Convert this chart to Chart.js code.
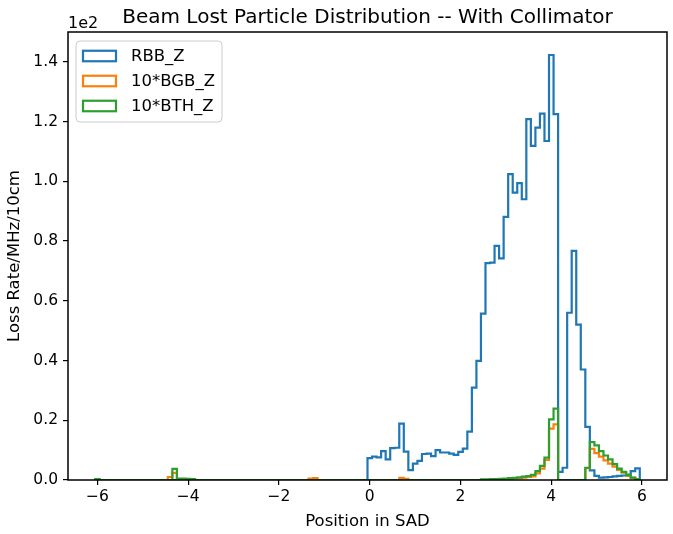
<!DOCTYPE html>
<html>
<head>
<meta charset="utf-8">
<script src="https://cdn.jsdelivr.net/npm/chart.js@4.4.0/dist/chart.umd.min.js"></script>
<style>
  html, body { margin: 0; padding: 0; background: #fff; }
</style>
</head>
<body>
<canvas id="lossChart" width="673" height="534"></canvas>
<script>
// histogram bins: 120 bins of width 0.1, centres -6.0 ... 5.9
const binStart = -6.05;
const binWidth = 0.1;

const xTicks = [-6, -4, -2, 0, 2, 4, 6];
const yTicks = [0, 20, 40, 60, 80, 100, 120, 140];

// one row per unit of position (centres -6.0..-5.1, -5.0..-4.1, ...)
const rbbZ = [
  0, 0, 0, 0, 0, 0, 0, 0, 0, 0,
  0, 0, 0, 0, 0, 0, 0, 0, 0, 0,
  0, 0, 0, 0, 0, 0, 0, 0, 0, 0,
  0, 0, 0, 0, 0, 0, 0, 0, 0, 0,
  0, 0, 0, 0, 0, 0, 0, 0, 0, 0,
  0, 0, 0, 0, 0, 0, 0, 0, 0, 0,
  7.3, 7.8, 7.6, 9.7, 6.9, 10.7, 10.8, 18.9, 9.5, 3.3,
  5.5, 6.4, 8.7, 8.8, 8.0, 10.0, 9.2, 9.2, 8.8, 8.4,
  9.4, 10.5, 16.2, 30.9, 39.9, 55.7, 72.6, 72.8, 78.4, 74.2,
  88.1, 102.4, 96.2, 99.4, 94.0, 120.8, 111.9, 118.0, 122.7, 113.5,
  142.3, 122.5, 2.7, 4.1, 56.0, 76.7, 52.0, 37.0, 17.8, 3.2,
  1.4, 0.8, 0.9, 1.0, 1.2, 1.4, 1.5, 1.8, 3.0, 3.9,
];

const bgbZ = [
  0, 0, 0, 0, 0, 0, 0, 0, 0, 0,
  0, 0, 0, 0, 0, 0, 1.0, 2.4, 0, 0,
  0, 0, 0, 0, 0, 0, 0, 0, 0, 0,
  0, 0, 0, 0, 0, 0, 0, 0, 0, 0,
  0, 0, 0, 0, 0, 0, 0, 0.5, 0.6, 0,
  0, 0, 0, 0, 0, 0, 0, 0, 0, 0,
  0, 0, 0, 0, 0, 0, 0, 0.7, 0.4, 0,
  0, 0, 0, 0, 0, 0, 0, 0, 0, 0,
  0, 0, 0, 0, 0, 0, 0, 0, 0.2, 0.3,
  0.3, 0.4, 0.5, 0.6, 0.8, 1.0, 1.2, 2.2, 3.8, 6.7,
  17.2, 18.6, 0, 0, 0, 0, 0, 0, 4.0, 10.4,
  9.0, 7.8, 6.6, 5.5, 4.5, 3.4, 2.5, 1.4, 0.7, 0.2,
];

const bthZ = [
  0.3, 0, 0, 0, 0, 0, 0, 0, 0, 0,
  0, 0, 0, 0, 0, 0, 0, 3.7, 0.5, 0.5,
  0.4, 0.3, 0, 0, 0, 0, 0, 0, 0, 0,
  0, 0, 0, 0, 0, 0, 0, 0, 0, 0,
  0, 0, 0, 0, 0, 0, 0, 0, 0, 0,
  0, 0, 0, 0, 0, 0, 0, 0, 0, 0,
  0, 0, 0, 0, 0, 0, 0, 0, 0, 0,
  0, 0, 0, 0, 0, 0, 0, 0, 0, 0,
  0, 0, 0, 0, 0, 0.2, 0.2, 0.3, 0.3, 0.4,
  0.5, 0.6, 0.7, 0.9, 1.1, 1.3, 1.7, 3.0, 4.7, 7.5,
  20.3, 23.9, 0, 0, 0, 0, 0, 0, 4.1, 12.7,
  11.6, 9.7, 8.2, 6.9, 5.3, 3.8, 2.7, 1.6, 0.8, 0.3,
];

const seriesNames = ['RBB_Z', '10*BGB_Z', '10*BTH_Z'];
const seriesColors = ['#1f77b4', '#ff7f0e', '#2ca02c'];

const FONT = '"DejaVu Sans", sans-serif';

// step outline like a matplotlib 'step' histogram
function outline(values) {
  const pts = [{ x: binStart, y: 0 }];
  values.forEach((v, i) => pts.push({ x: binStart + i * binWidth, y: v }));
  pts.push({ x: binStart + values.length * binWidth, y: 0 });
  return pts;
}

function fmtTick(v) {
  return v < 0 ? '\u2212' + Math.abs(v) : String(v);
}

const decorations = {
  id: 'decorations',
  afterDatasetsDraw(chart) {
    const { ctx, chartArea: a } = chart;
    ctx.save();
    ctx.strokeStyle = '#000';
    ctx.lineWidth = 1.5;
    ctx.strokeRect(a.left, a.top, a.right - a.left, a.bottom - a.top);

    ctx.fillStyle = '#000';
    ctx.textAlign = 'center';
    ctx.textBaseline = 'alphabetic';
    ctx.font = '20px ' + FONT;
    ctx.fillText('Beam Lost Particle Distribution -- With Collimator', (a.left + a.right) / 2, a.top - 9);

    ctx.textAlign = 'left';
    ctx.font = '16px ' + FONT;
    ctx.fillText('1e2', a.left, a.top - 4);
    ctx.restore();
  },
  afterDraw(chart) {
    const { ctx, chartArea: a } = chart;
    const x0 = a.left + 8, y0 = a.top + 9, w = 146, h = 81;
    ctx.save();
    ctx.beginPath();
    ctx.roundRect(x0, y0, w, h, 4);
    ctx.fillStyle = 'rgba(255,255,255,0.8)';
    ctx.fill();
    ctx.strokeStyle = '#cccccc';
    ctx.lineWidth = 1;
    ctx.stroke();

    ctx.font = '16.5px ' + FONT;
    ctx.textBaseline = 'middle';
    ctx.textAlign = 'left';
    seriesNames.forEach((name, i) => {
      const cy = y0 + 15 + i * 25;
      ctx.strokeStyle = seriesColors[i];
      ctx.lineWidth = 2.2;
      ctx.strokeRect(x0 + 7, cy - 5.25, 33, 10.5);
      ctx.fillStyle = '#000';
      ctx.fillText(name, x0 + 55, cy + 1);
    });
    ctx.restore();
  },
};

new Chart(document.getElementById('lossChart'), {
  type: 'line',
  data: {
    datasets: [rbbZ, bgbZ, bthZ].map((vals, i) => ({
      label: seriesNames[i],
      data: outline(vals),
      borderColor: seriesColors[i],
      backgroundColor: seriesColors[i],
      borderWidth: 2.2,
      stepped: true,
      fill: false,
      pointRadius: 0,
      order: 2 - i,
    })),
  },
  options: {
    responsive: false,
    animation: false,
    devicePixelRatio: 1,
    layout: { padding: { top: 32, right: 6, left: 0, bottom: 0 } },
    plugins: {
      legend: { display: false },
      tooltip: { enabled: false },
    },
    scales: {
      x: {
        type: 'linear',
        min: -6.65,
        max: 6.55,
        afterFit(s) { s.height = 54; },
        afterBuildTicks(s) { s.ticks = xTicks.map((v) => ({ value: v })); },
        ticks: {
          callback: fmtTick,
          color: '#000',
          font: { family: FONT, size: 15.5 },
          padding: 3,
          maxRotation: 0,
        },
        grid: { drawOnChartArea: false, tickLength: 5, color: '#000', lineWidth: 1.2 },
        border: { display: false },
        title: {
          display: true,
          text: 'Position in SAD',
          color: '#000',
          font: { family: FONT, size: 16.5 },
          padding: { top: 0, bottom: 2 },
        },
      },
      y: {
        min: 0,
        max: 150,
        afterFit(s) { s.width = 68; },
        afterBuildTicks(s) { s.ticks = yTicks.map((v) => ({ value: v })); },
        ticks: {
          callback: (v) => (v / 100).toFixed(1),
          color: '#000',
          font: { family: FONT, size: 15.5 },
          padding: 5,
        },
        grid: { drawOnChartArea: false, tickLength: 5, color: '#000', lineWidth: 1.2 },
        border: { display: false },
        title: {
          display: true,
          text: 'Loss Rate/MHz/10cm',
          color: '#000',
          font: { family: FONT, size: 16.5 },
          padding: { top: 5, bottom: 0 },
        },
      },
    },
  },
  plugins: [decorations],
});
</script>
</body>
</html>
